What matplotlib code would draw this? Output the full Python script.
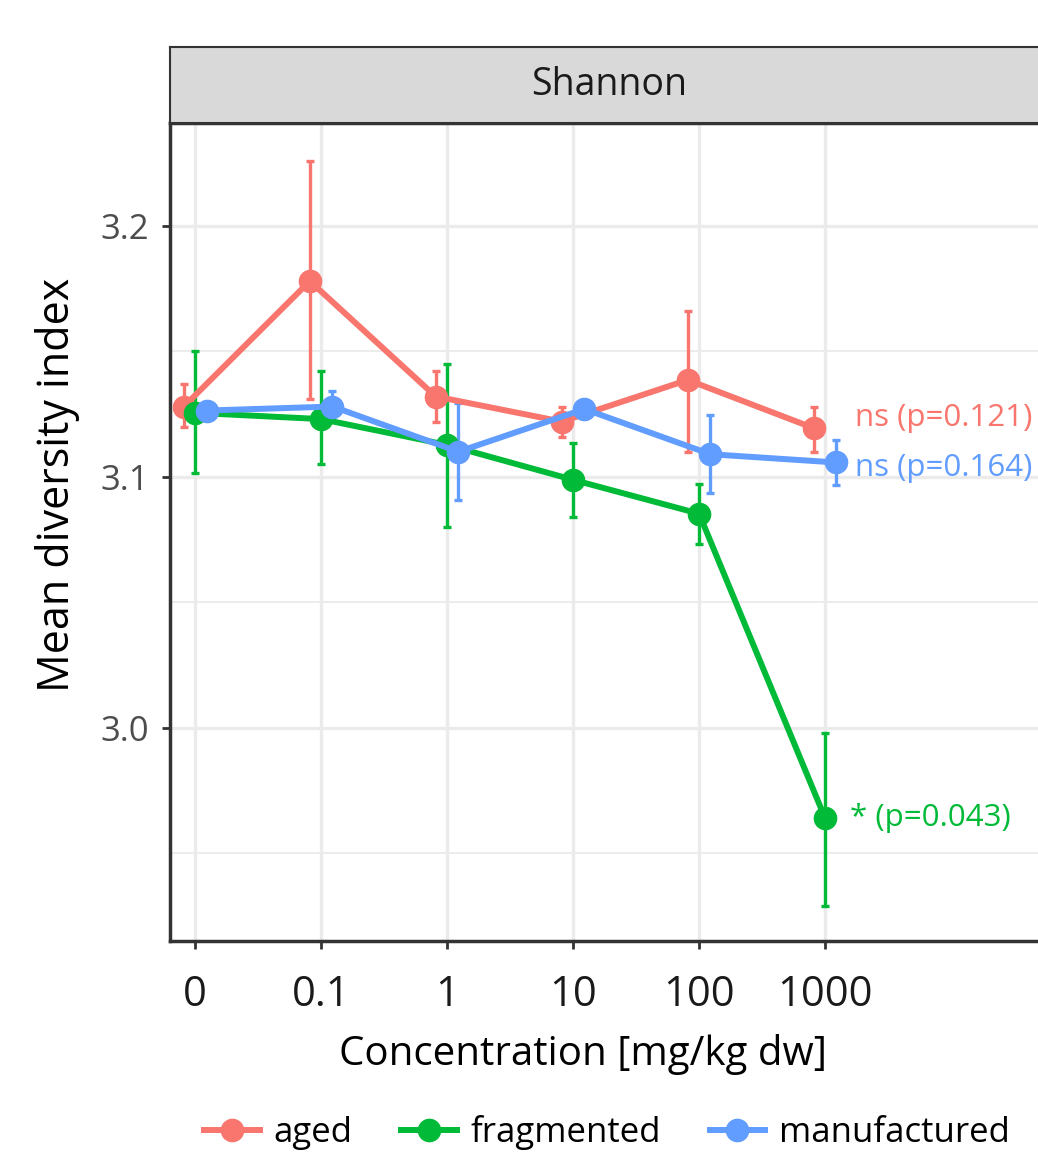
import numpy as np
import matplotlib
matplotlib.use('Agg')
import matplotlib.pyplot as plt
from matplotlib.lines import Line2D

plt.rcParams['font.family'] = ['Open Sans', 'DejaVu Sans']

# data
conc_labels = ['0', '0.1', '1', '10', '100', '1000']
groups = ['aged', 'fragmented', 'manufactured']
colors = {'aged': '#F8766D', 'fragmented': '#00BA38', 'manufactured': '#619CFF'}
dodge = {'aged': -0.09, 'fragmented': 0.0, 'manufactured': 0.09}

aged_mean = [3.128, 3.178, 3.132, 3.122, 3.1386, 3.1194]
aged_lo = [3.120, 3.131, 3.122, 3.116, 3.110, 3.110]
aged_hi = [3.137, 3.226, 3.142, 3.128, 3.166, 3.128]

frag_mean = [3.1255, 3.123, 3.1127, 3.0988, 3.0853, 2.964]
frag_lo = [3.1016, 3.105, 3.080, 3.0838, 3.0733, 2.929]
frag_hi = [3.150, 3.142, 3.145, 3.1135, 3.097, 2.998]

manu_mean = [3.1264, 3.128, 3.110, 3.127, 3.109, 3.1057]
manu_lo = [3.1245, 3.124, 3.0908, 3.125, 3.0935, 3.0968]
manu_hi = [3.1285, 3.134, 3.1296, 3.129, 3.1247, 3.1147]

series = {
    'aged': (aged_mean, aged_lo, aged_hi),
    'fragmented': (frag_mean, frag_lo, frag_hi),
    'manufactured': (manu_mean, manu_lo, manu_hi),
}

annot_text = {'aged': 'ns (p=0.121)', 'fragmented': '* (p=0.043)', 'manufactured': 'ns (p=0.164)'}
annot_y = {'aged': 3.1235, 'fragmented': 2.964, 'manufactured': 3.1036}
annot_x = {'aged': 5.24, 'fragmented': 5.2, 'manufactured': 5.24}

W, H = 1038, 1158
fig = plt.figure(figsize=(W / 100, H / 100), dpi=100)
ax = fig.add_axes([170 / W, (H - 941) / H, 878 / W, 818 / H])

x = np.arange(len(conc_labels))
for g in groups:
    m, lo, hi = series[g]
    m = np.array(m); lo = np.array(lo); hi = np.array(hi)
    xs = x + dodge[g]
    ax.errorbar(xs, m, yerr=[m - lo, hi - m], fmt='none', ecolor=colors[g],
                elinewidth=2.4, capsize=3, capthick=2.4, zorder=3)
    ax.plot(xs, m, '-o', color=colors[g], lw=4.3, markersize=16, zorder=4)
    ax.text(annot_x[g], annot_y[g], annot_text[g], color=colors[g],
            fontsize=22.5, va='center', ha='left', zorder=5)

ax.set_xlim(-0.2, 6.77)
ax.set_ylim(2.915, 3.241)
ax.set_xticks(x)
ax.set_xticklabels(conc_labels)
ax.set_yticks([3.0, 3.1, 3.2])
ax.set_yticklabels(['3.0', '3.1', '3.2'])
ax.set_yticks([2.95, 3.05, 3.15], minor=True)
ax.grid(True, which='major', color='#EBEBEB', lw=2.4, zorder=0)
ax.grid(True, which='minor', axis='y', color='#EBEBEB', lw=1.3, zorder=0)
ax.set_axisbelow(True)
ax.tick_params(axis='x', labelsize=30, colors='#333333', labelcolor='#1A1A1A', length=6, width=2, pad=18)
ax.tick_params(axis='y', labelsize=25, colors='#333333', labelcolor='#4D4D4D', length=6, width=2, pad=9)
ax.tick_params(axis='y', which='minor', length=0)
for s in ax.spines.values():
    s.set_color('#333333')
    s.set_linewidth(2.5)

ax.set_ylabel('Mean diversity index', fontsize=31)
ax.yaxis.set_label_coords((80 - 170) / 878, (941 - 485) / 818)
ax.set_xlabel('Concentration [mg/kg dw]', fontsize=29)
ax.xaxis.set_label_coords((583 - 170) / 878, (941 - 1034) / 818)

# facet strip
sax = fig.add_axes([170 / W, (H - 123) / H, 878 / W, 76 / H])
sax.set_facecolor('#D9D9D9')
sax.set_xticks([]); sax.set_yticks([])
for s in sax.spines.values():
    s.set_color('#333333')
    s.set_linewidth(1.5)
sax.text(0.5, 0.5, 'Shannon', transform=sax.transAxes, ha='center', va='center',
         fontsize=27, color='#1A1A1A')

handles = [Line2D([0], [0], color=colors[g], lw=4.3, marker='o', markersize=16) for g in groups]
fig.legend(handles, groups, loc='center', bbox_to_anchor=(607 / W, (H - 1133) / H),
           ncol=3, frameon=False, fontsize=25, handlelength=1.6, columnspacing=1.4,
           handletextpad=0.4)

fig.savefig('out.png', dpi=100)
